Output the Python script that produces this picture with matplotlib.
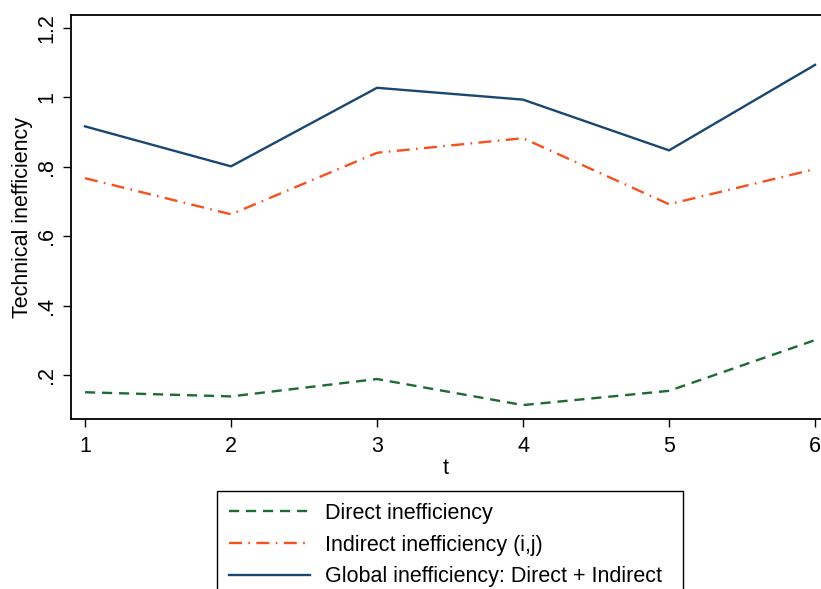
import matplotlib
matplotlib.use("Agg")
import matplotlib.pyplot as plt

t = [1, 2, 3, 4, 5, 6]
direct = [0.151, 0.139, 0.189, 0.114, 0.155, 0.301]
indirect = [0.767, 0.663, 0.840, 0.882, 0.692, 0.793]
global_ineff = [0.916, 0.801, 1.027, 0.993, 0.847, 1.093]

yticks = [0.2, 0.4, 0.6, 0.8, 1.0, 1.2]
ytick_labels = [".2", ".4", ".6", ".8", "1", "1.2"]
labels = ["Direct inefficiency", "Indirect inefficiency (i,j)",
          "Global inefficiency: Direct + Indirect"]

plt.rcParams['font.family'] = ['Liberation Sans', 'DejaVu Sans']

fig = plt.figure(figsize=(8.21, 5.89), dpi=100)
ax = fig.add_axes([71/821, 1-419/589, 1-71/821, (419-15)/589])

l1, = ax.plot(t, direct, color="#1e6b32", lw=1.7, dashes=[4.3, 2.9])
l2, = ax.plot(t, indirect, color="#f4511e", lw=1.7, dashes=[5.5, 2.7, 0.7, 2.7])
l3, = ax.plot(t, global_ineff, color="#1a476f", lw=1.7)

ax.set_xlim(0.904, 6.041)
ax.set_ylim(0.074, 1.2365)
ax.set_xticks(t)
ax.set_yticks(yticks)
ax.set_yticklabels(ytick_labels, rotation=90, va='center')
ax.tick_params(axis='both', labelsize=15.5, length=6, width=1, direction='out')
ax.tick_params(axis='x', pad=6)
ax.tick_params(axis='y', pad=4)
ax.spines['right'].set_visible(False)
for s in ['left', 'bottom', 'top']:
    ax.spines[s].set_linewidth(1.3)
ax.set_xlabel("t", fontsize=15.5, labelpad=1)
ax.set_ylabel("Technical inefficiency", fontsize=15.5, labelpad=2)

y_top = 1 - 491/589
leg = fig.legend([l1, l2, l3], labels, loc='upper left',
                 bbox_to_anchor=(217/821, y_top - 0.3, 466/821, 0.3),
                 mode='expand', borderaxespad=0, fontsize=15.5,
                 handlelength=3.76, handletextpad=0.7, labelspacing=0.5,
                 borderpad=0.55, fancybox=False, framealpha=1,
                 edgecolor='black')
leg.get_frame().set_linewidth(1.0)

fig.savefig("out.png", dpi=100)
